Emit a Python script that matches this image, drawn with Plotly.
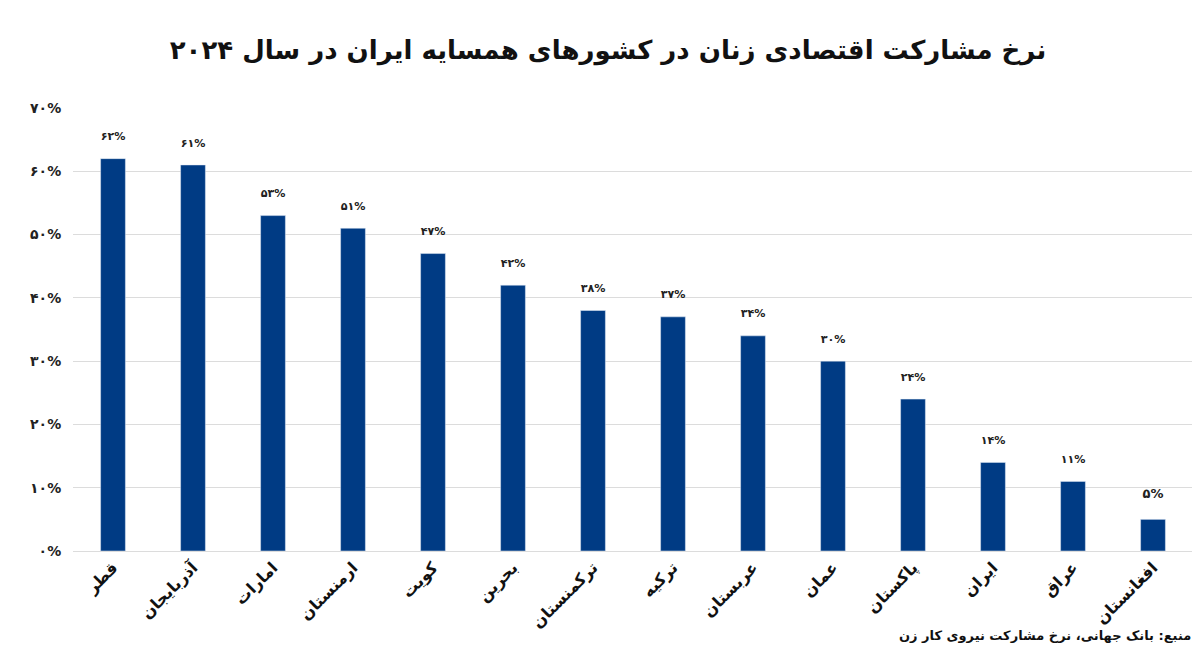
import plotly.graph_objects as go

countries = ["قطر","آذربایجان","امارات","ارمنستان","کویت","بحرین","ترکمنستان","ترکیه","عربستان","عمان","پاکستان","ایران","عراق","افغانستان"]
values = [62,61,53,51,47,42,38,37,34,30,24,14,11,5]
tick_vals = [0,10,20,30,40,50,60,70]

def fa(n):
    return str(n).translate(str.maketrans("0123456789","۰۱۲۳۴۵۶۷۸۹"))

tick_text = ["<b>"+fa(v)+"%</b>" for v in tick_vals]
labels = ["<b>"+fa(v)+"%</b><br><span style='font-size:4px'> </span>" for v in values]
x_labels = ["<b>"+c+"</b>" for c in countries]
font = "DejaVu Sans"

fig = go.Figure(go.Bar(
    x=x_labels, y=values, text=labels, textposition="outside",
    textfont=dict(family=font, size=13, color="#222"),
    marker_color="#003b84", width=0.31, cliponaxis=False))

fig.update_layout(
    width=1200, height=664, plot_bgcolor="white", paper_bgcolor="white",
    margin=dict(l=65, r=15, t=100, b=121),
    title=dict(text="<b>نرخ مشارکت اقتصادی زنان در کشورهای همسایه ایران در سال ۲۰۲۴</b>",
               x=0.5, y=0.95, xanchor="center", yanchor="top", font=dict(family=font, size=26, color="#111")),
    showlegend=False, uniformtext=dict(minsize=13),
    annotations=[dict(text="<b>منبع: بانک جهانی، نرخ مشارکت نیروی کار زن</b>", xref="paper", yref="paper",
                      x=1, y=-0.17, xanchor="right", yanchor="top", showarrow=False,
                      font=dict(family=font, size=13, color="#111"))])
fig.update_yaxes(range=[0,70], tickvals=tick_vals, ticktext=tick_text, gridcolor="#dcdcdc",
                 tickfont=dict(family=font, size=14, color="#222"), zeroline=False, ticks="outside", ticklen=8, tickcolor="white")
fig.update_xaxes(tickangle=-45, tickfont=dict(family=font, size=16, color="#111"),
                 showline=True, linecolor="#dcdcdc")
fig.write_html("out.html")
